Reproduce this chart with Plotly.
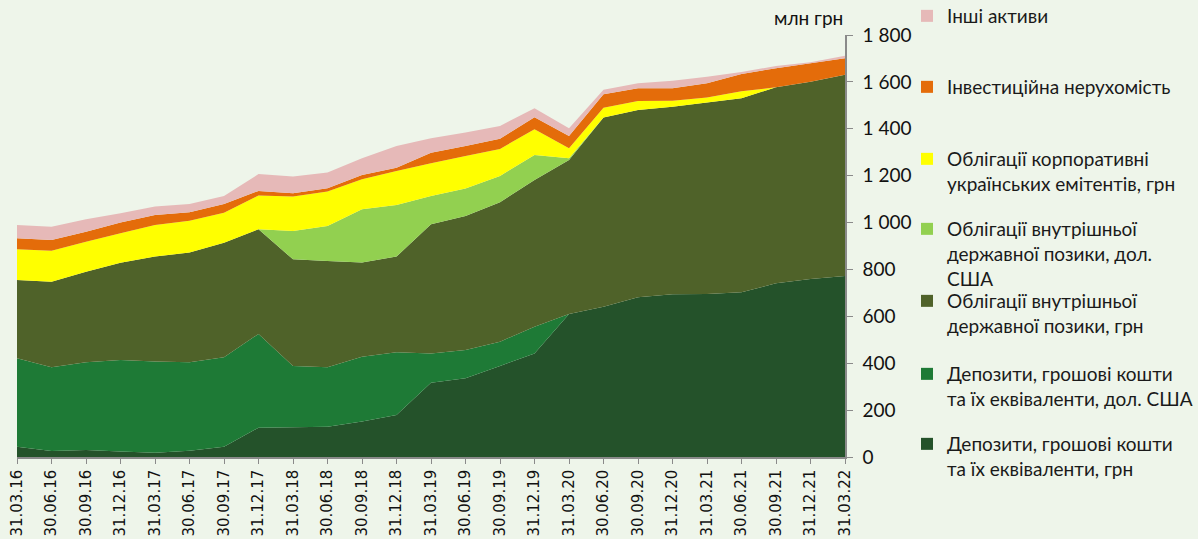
import plotly.graph_objects as go

dates = ["31.03.16", "30.06.16", "30.09.16", "31.12.16", "31.03.17", "30.06.17",
         "30.09.17", "31.12.17", "31.03.18", "30.06.18", "30.09.18", "31.12.18",
         "31.03.19", "30.06.19", "30.09.19", "31.12.19", "31.03.20", "30.06.20",
         "30.09.20", "31.12.20", "31.03.21", "30.06.21", "30.09.21", "31.12.21",
         "31.03.22"]

dep_uah = [44, 26, 30, 23, 18, 27, 44, 125, 127, 129, 151, 179, 317, 336, 388, 442,
           610, 641, 681, 694, 695, 703, 741, 759, 772]
dep_usd = [377, 357, 374, 391, 389, 377, 381, 400, 261, 254, 277, 268, 125, 120, 104, 114,
           0, 0, 0, 0, 0, 0, 0, 0, 0]
ovdp_uah = [334, 365, 386, 415, 448, 468, 489, 446, 455, 453, 402, 408, 551, 572, 595, 626,
            657, 807, 799, 800, 817, 827, 836, 842, 858]
ovdp_usd = [0, 0, 0, 0, 0, 0, 0, 0, 121, 149, 227, 220, 120, 117, 112, 106,
            7, 0, 0, 0, 0, 0, 0, 0, 0]
corp = [131, 132, 128, 125, 135, 136, 128, 144, 147, 147, 128, 145, 140, 139, 115, 110,
        43, 42, 39, 26, 21, 30, 0, 0, 0]
invest = [47, 46, 43, 46, 42, 36, 37, 20, 14, 14, 18, 14, 45, 43, 43, 51,
          52, 57, 54, 53, 61, 74, 81, 79, 71]
other = [57, 56, 53, 40, 36, 35, 34, 72, 71, 68, 71, 93, 62, 57, 55, 39,
         33, 19, 21, 32, 28, 8, 10, 4, 10]

names = [
    "Депозити, грошові кошти<br>та їх еквіваленти, грн",
    "Депозити, грошові кошти<br>та їх еквіваленти, дол. США",
    "Облігації внутрішньої<br>державної позики, грн",
    "Облігації внутрішньої<br>державної позики, дол.<br>США",
    "Облігації корпоративні<br>українських емітентів, грн",
    "Інвестиційна нерухомість",
    "Інші активи",
]
colors = ["#24522A", "#1E7A36", "#4F6229", "#92D050", "#FFFF00", "#E46C0A", "#E6B9B8"]
series = [dep_uah, dep_usd, ovdp_uah, ovdp_usd, corp, invest, other]
y_ticks = [0, 200, 400, 600, 800, 1000, 1200, 1400, 1600, 1800]

W, H = 1198, 539
ML, MR, MT, MB = 17, 353, 35, 82
PW, PH = W - ML - MR, H - MT - MB

BG = "#EEF5EA"
AXC = "#8A8A8A"

fig = go.Figure()
x = list(range(len(dates)))
for s, n, c in zip(series, names, colors):
    fig.add_trace(go.Scatter(x=x, y=s, stackgroup="one", mode="none", fillcolor=c,
                             name=n, showlegend=False, hoverinfo="skip"))

# legend entries (top to bottom), each in its own legend box
legend_first_line_y = [17, 88, 160, 230, 302, 375, 445]
order = [6, 5, 4, 3, 2, 1, 0]
layout_legends = {}
for k, (idx, cy) in enumerate(zip(order, legend_first_line_y)):
    lname = "legend" if k == 0 else f"legend{k+1}"
    fig.add_trace(go.Scatter(x=[None], y=[None], mode="markers", name=names[idx],
                             marker=dict(symbol="square", size=12, color=colors[idx]),
                             legend=lname, showlegend=True))
    layout_legends[lname] = dict(
        x=(907 - ML) / PW, xanchor="left",
        y=(H - MB - (cy - 20)) / PH, yanchor="top",
        bgcolor="rgba(0,0,0,0)", borderwidth=0,
        font=dict(family="Lato", size=19, color="#1a1a1a"),
        valign="top", tracegroupgap=0,
    )

fig.update_layout(
    width=W, height=H,
    margin=dict(l=ML, r=MR, t=MT, b=MB, autoexpand=False),
    paper_bgcolor=BG, plot_bgcolor=BG,
    separators=", ",
    showlegend=True,
    **layout_legends,
    xaxis=dict(
        range=[0, len(dates) - 1], tickmode="array", tickvals=x, ticktext=dates,
        tickangle=-90, ticks="outside", ticklen=5, tickcolor=AXC,
        showline=True, linecolor=AXC, linewidth=1.5, showgrid=False, zeroline=False,
        automargin=False,
        tickfont=dict(family="DejaVu Sans", size=15, color="#111"),
    ),
    yaxis=dict(
        range=[0, 1800], side="right", tickmode="array", tickvals=y_ticks,
        separatethousands=True, ticklabelstandoff=6,
        ticks="outside", ticklen=6, tickcolor=AXC,
        showline=True, linecolor=AXC, linewidth=1.5, showgrid=False, zeroline=False,
        automargin=False,
        tickfont=dict(family="Lato", size=19, color="#111"),
    ),
    annotations=[dict(
        text="млн грн", xref="paper", yref="paper", x=1, y=(H - MB - 18) / PH,
        xanchor="right", yanchor="middle", showarrow=False,
        font=dict(family="Lato", size=19, color="#111"),
    )],
)

fig.write_html("out.html", config={"displayModeBar": False},
               post_script="document.body.style.margin='0';document.body.style.overflow='hidden';")
